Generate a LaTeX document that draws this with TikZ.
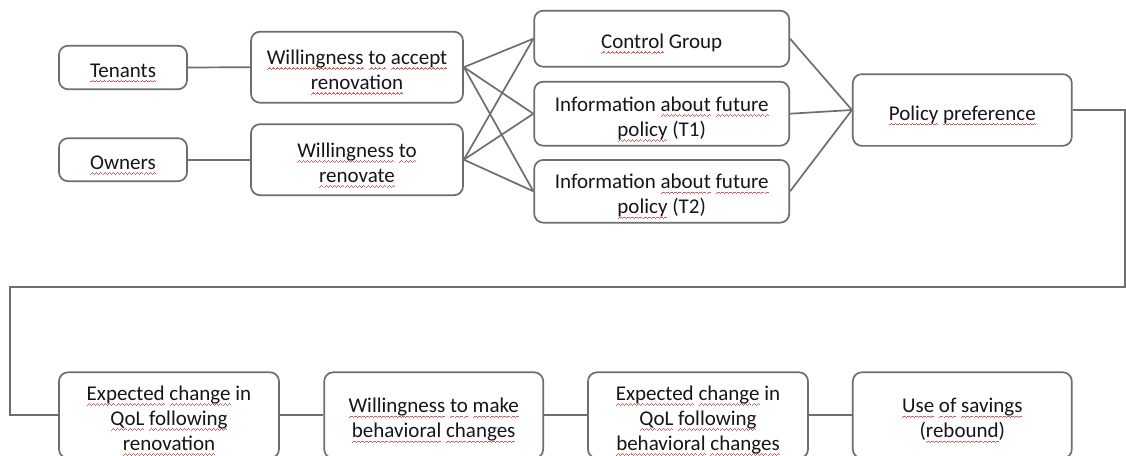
\documentclass[tikz,border=0pt]{standalone}
\usepackage{fontspec}
\setmainfont{Carlito}
\usepackage{xcolor}
\definecolor{boxline}{HTML}{6E6E6E}
\definecolor{inktext}{HTML}{161616}
\definecolor{spellred}{HTML}{E2595A}
% one period of the red wavy underline, repeated under a word
\newcommand\wavecell{\hbox{\begingroup\color{spellred}%
  \rule[-5.4pt]{1pt}{1.1pt}\rule[-4.6pt]{1pt}{1.1pt}%
  \rule[-3.8pt]{1pt}{1.1pt}\rule[-4.6pt]{1pt}{1.1pt}\endgroup}}
\newsavebox{\sqbox}
\newcommand\sq[1]{\leavevmode\sbox{\sqbox}{#1}%
  \rlap{\hbox to \wd\sqbox{\xleaders\wavecell\hfill}}\usebox{\sqbox}}
\tikzset{
  box/.style={draw=boxline, line width=1.7pt, rounded corners=9pt, inner sep=0pt},
  lbl/.style={align=center, inner sep=0pt, text=inktext,
    font=\fontsize{21}{25}\selectfont},
  link/.style={draw=boxline, line width=1.7pt}
}
\begin{document}
\begin{tikzpicture}[x=1pt,y=-1pt]
\useasboundingbox[clip] (0,0) rectangle (1126,455);
\fill[white] (0,0) rectangle (1126,455);

% first stage: groups and willingness
\node[box, minimum width=128pt, minimum height=43.5pt] (ten) at (123,67.5) {};
\node[lbl] (ten-t) at ([yshift=-5.5pt]ten.center) {\sq{Tenants}};
\node[box, minimum width=128pt, minimum height=43pt] (own) at (123,159.7) {};
\node[lbl] (own-t) at ([yshift=-5.5pt]own.center) {\sq{Owners}};
\node[box, minimum width=212pt, minimum height=71pt] (wa) at (357,67.2) {};
\node[lbl] (wa-t) at ([yshift=-5.5pt]wa.center)
  {\sq{Willingness} \sq{to} \sq{accept}\\ \sq{renovation}};
\node[box, minimum width=212pt, minimum height=71pt] (wr) at (357,159.7) {};
\node[lbl] (wr-t) at ([yshift=-5.5pt]wr.center)
  {\sq{Willingness} \sq{to}\\ \sq{renovate}};

% treatments
\node[box, minimum width=255pt, minimum height=56pt] (cg) at (661.7,38.7) {};
\node[lbl] (cg-t) at ([yshift=-5.5pt]cg.center) {\sq{Control} Group};
\node[box, minimum width=255pt, minimum height=64pt] (t1) at (661.7,113.7) {};
\node[lbl] (t1-t) at ([yshift=-5.5pt]t1.center)
  {Information \sq{about} \sq{future}\\ \sq{policy} (T1)};
\node[box, minimum width=255pt, minimum height=62.7pt] (t2) at (661.7,191.3) {};
\node[lbl] (t2-t) at ([yshift=-5.5pt]t2.center)
  {Information \sq{about} \sq{future}\\ \sq{policy} (T2)};
\node[box, minimum width=219pt, minimum height=71.7pt] (pp) at (962.3,110) {};
\node[lbl] (pp-t) at ([yshift=-5.5pt]pp.center) {\sq{Policy} \sq{preference}};

% second row of outcomes
\node[box, minimum width=220pt, minimum height=86pt] (b1) at (169,415.3) {};
\node[lbl] (b1-t) at ([yshift=-5.5pt]b1.center)
  {\sq{Expected} \sq{change} in\\ \sq{QoL} \sq{following}\\ \sq{renovation}};
\node[box, minimum width=219pt, minimum height=86pt] (b2) at (433.7,415.3) {};
\node[lbl] (b2-t) at ([yshift=-5.5pt]b2.center)
  {\sq{Willingness} \sq{to} \sq{make}\\ \sq{behavioral} \sq{changes}};
\node[box, minimum width=220pt, minimum height=86pt] (b3) at (698,415.3) {};
\node[lbl] (b3-t) at ([yshift=-5.5pt]b3.center)
  {\sq{Expected} \sq{change} in\\ \sq{QoL} \sq{following}\\ \sq{behavioral} \sq{changes}};
\node[box, minimum width=219pt, minimum height=86pt] (b4) at (962.3,415.3) {};
\node[lbl] (b4-t) at ([yshift=-5.5pt]b4.center)
  {\sq{Use} \sq{of} \sq{savings}\\ (\sq{rebound})};

% connectors
\draw[link] (ten.east) -- (wa.west);
\draw[link] (own.east) -- (wr.west);
\foreach \s in {wa,wr}{
  \foreach \t in {cg,t1,t2}{
    \draw[link] (\s.east) -- (\t.west);
  }
}
\foreach \s in {cg,t1,t2}{
  \draw[link] (\s.east) -- (pp.west);
}
\coordinate (turnR) at (1125,287);
\coordinate (turnL) at (10,287);
\draw[link] (pp.east) -| (turnR) -- (turnL) |- (b1.west);
\draw[link] (b1.east) -- (b2.west);
\draw[link] (b2.east) -- (b3.west);
\draw[link] (b3.east) -- (b4.west);
\end{tikzpicture}
\end{document}
